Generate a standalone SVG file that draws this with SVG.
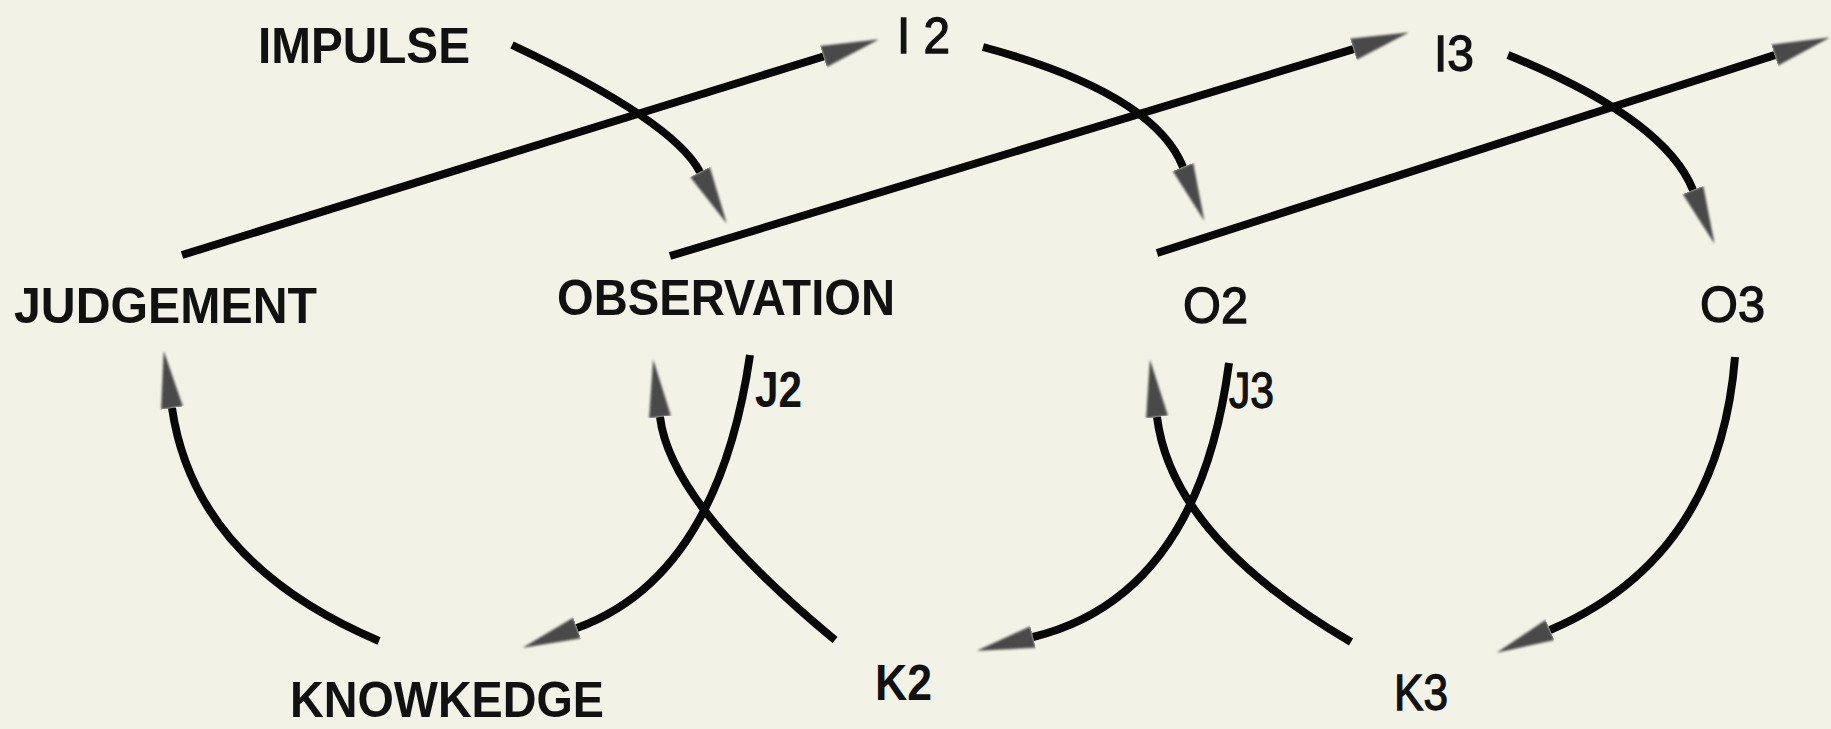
<svg xmlns="http://www.w3.org/2000/svg" width="1831" height="729" viewBox="0 0 1831 729">
  <style>
    .lbl { font-family: "Liberation Sans", Arial, sans-serif; font-size: 50px; fill: #111; }
    .b { font-weight: bold; }
    .r { font-weight: normal; stroke: #111; stroke-width: 1.3px; }
    .edge { fill: none; stroke: #080808; stroke-width: 8; stroke-linecap: butt; marker-end: url(#head); }
  </style>
  <defs>
    <filter id="soft" x="-20%" y="-50%" width="140%" height="200%">
      <feGaussianBlur stdDeviation="1.2"/>
    </filter>
    <marker id="head" markerUnits="userSpaceOnUse" markerWidth="62" markerHeight="28" refX="0" refY="14" orient="auto" viewBox="0 0 62 28">
      <path d="M0,3 L58,14 L0,25 Z" fill="#4a4a4a" filter="url(#soft)"/>
    </marker>
  </defs>
  <rect width="1831" height="729" fill="#f2f2e6"/>

  <g id="connectors">
    <!-- straight diagonal arrows -->
    <path class="edge" d="M182,255 L823.5,56.5"/>
    <path class="edge" d="M670,256 L1353.4,49.2"/>
    <path class="edge" d="M1157,253 L1774.7,55.1"/>
    <!-- upper curves -->
    <path class="edge" d="M512,45 Q673.5,121 700,172"/>
    <path class="edge" d="M983,47 Q1153.8,93.2 1183,167"/>
    <path class="edge" d="M1508,55 Q1664.5,118.7 1693,190"/>
    <!-- lower curves -->
    <path class="edge" d="M379,641 Q194.5,562.8 172,408"/>
    <path class="edge" d="M750,355 Q717.7,576.8 577,628"/>
    <path class="edge" d="M835,640 Q670.3,503.7 660,417"/>
    <path class="edge" d="M1229,363 Q1198.4,596.4 1033,637"/>
    <path class="edge" d="M1351,642 Q1171.8,537.1 1157,417"/>
    <path class="edge" d="M1735,357 Q1719.1,558 1550,630"/>
  </g>

  <g id="impulse"><text class="lbl b" x="258" y="63" textLength="212" lengthAdjust="spacingAndGlyphs">IMPULSE</text></g>
  <g id="i2"><text class="lbl r" x="897" y="53" textLength="53" lengthAdjust="spacingAndGlyphs">I 2</text></g>
  <g id="i3"><text class="lbl r" x="1434" y="71" textLength="40" lengthAdjust="spacingAndGlyphs">I3</text></g>
  <g id="judgement"><text class="lbl b" x="14" y="323" textLength="303" lengthAdjust="spacingAndGlyphs">JUDGEMENT</text></g>
  <g id="observation"><text class="lbl b" x="557" y="315" textLength="338" lengthAdjust="spacingAndGlyphs">OBSERVATION</text></g>
  <g id="o2"><text class="lbl r" x="1183" y="323" textLength="65" lengthAdjust="spacingAndGlyphs">O2</text></g>
  <g id="o3"><text class="lbl r" x="1700" y="322" textLength="65" lengthAdjust="spacingAndGlyphs">O3</text></g>
  <g id="j2"><text class="lbl b" x="755" y="407" textLength="47" lengthAdjust="spacingAndGlyphs">J2</text></g>
  <g id="j3"><text class="lbl r" x="1229" y="408" textLength="45" lengthAdjust="spacingAndGlyphs">J3</text></g>
  <g id="knowkedge"><text class="lbl b" x="290" y="717" textLength="314" lengthAdjust="spacingAndGlyphs">KNOWKEDGE</text></g>
  <g id="k2"><text class="lbl b" x="875" y="700" textLength="57" lengthAdjust="spacingAndGlyphs">K2</text></g>
  <g id="k3"><text class="lbl r" x="1394" y="710" textLength="54" lengthAdjust="spacingAndGlyphs">K3</text></g>
</svg>
